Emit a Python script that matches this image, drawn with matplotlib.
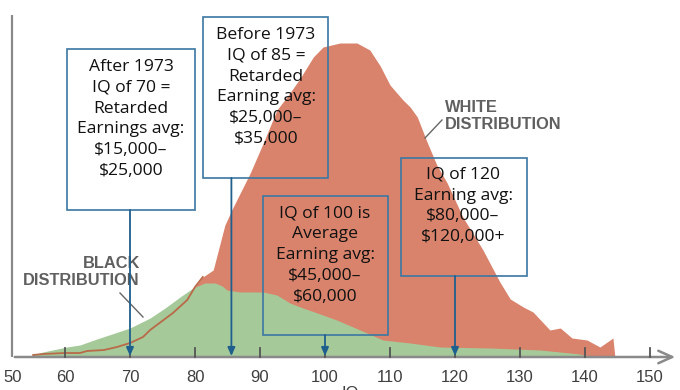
import matplotlib
matplotlib.use("Agg")
import matplotlib.pyplot as plt
from matplotlib.patches import Rectangle
import numpy as np

# ---- data ----
white_iq = [55.1, 56.6, 60.0, 62.3, 63.4, 66.0, 68.0, 70.0, 72.0, 73.1, 76.6, 78.8, 80.0, 81.2,
            82.8, 83.8, 84.6, 85.8, 88.5, 90.5, 92.6, 94.6, 96.2, 98.2, 99.7, 102.3, 104.9,
            106.9, 108.5, 110.0, 112.0, 113.1, 114.2, 115.7, 117.2, 118.8, 121.2, 124.3,
            126.9, 128.5, 130.5, 132.0, 134.6, 136.2, 138.0, 140.3, 142.3, 144.3, 144.6]
white_h = [2, 3, 4, 4, 6, 7, 10, 14, 20, 27, 44, 57, 70, 80,
           87, 112, 132, 149, 184, 214, 247, 264, 279, 300, 310, 314, 314,
           307, 291, 272, 257, 250, 240, 215, 192, 174, 140, 107,
           75, 58, 50, 45, 27, 29, 19, 17, 10, 19, 0]

black_iq = [54.6, 56.6, 60.3, 62.3, 64.9, 67.7, 70.0, 73.1, 75.4, 77.7, 79.7, 81.5, 83.1, 84.2,
            84.9, 86.9, 88.5, 90.5, 92.6, 94.6, 96.6, 98.8, 101.8, 105.4, 108.9, 113.1,
            117.7, 125.4, 133.1, 139.2, 140.8]
black_h = [1, 5, 10, 12, 18, 24, 29, 39, 49, 60, 69, 74, 74, 71,
           67, 65, 65, 65, 62, 54, 49, 44, 37, 27, 17, 14,
           10, 9, 7, 3, 0]

tick_values = [50, 60, 70, 80, 90, 100, 110, 120, 130, 140, 150]
tick_labels = [str(v) for v in tick_values]

box_texts = [
    "After 1973\nIQ of 70 =\nRetarded\nEarnings avg:\n$15,000\u2013\n$25,000",
    "Before 1973\nIQ of 85 =\nRetarded\nEarning avg:\n$25,000\u2013\n$35,000",
    "IQ of 100 is\nAverage\nEarning avg:\n$45,000\u2013\n$60,000",
    "IQ of 120\nEarning avg:\n$80,000\u2013\n$120,000+",
]
arrow_iq = [70, 85.6, 100, 120]

# ---- layout helpers (pixel -> data) ----
PX_PER_IQ = 6.5
def dx(x):
    return 60 + (x - 65) / PX_PER_IQ
def dy(y):
    return 357 - y

fig = plt.figure(figsize=(6.8, 3.9), dpi=100)
ax = fig.add_axes([0, 0, 1, 1])
ax.set_xlim(dx(0), dx(680))
ax.set_ylim(dy(390), dy(0))
ax.axis('off')

red = '#d9836c'
green = '#a5c999'
ax.fill_between(white_iq, 0, white_h, color=red, lw=0, zorder=1)
ax.fill_between(black_iq, 0, black_h, color=green, lw=0, zorder=2)
n_line = sum(1 for v in white_iq if v <= 81.5)
ax.plot(white_iq[:n_line], white_h[:n_line], color='#b96a48', lw=1.3, zorder=3)

# axes lines
spine_x = dx(12)
ax.plot([spine_x, spine_x], [0, dy(15)], color='#8a8a8a', lw=1.6, zorder=4, solid_capstyle='butt')
ax.annotate('', xy=(dx(678), 0), xytext=(spine_x, 0),
            arrowprops=dict(arrowstyle='->,head_length=1.0,head_width=0.45', color='#8a8a8a', lw=1.8),
            zorder=4)
for v, lab in zip(tick_values, tick_labels):
    if v > 50:
        ax.plot([v, v], [0, 9], color='#555555', lw=1.3, zorder=4)
        ax.text(v, -21, lab, ha='center', va='center', fontsize=12,
                family='Liberation Sans', color='#3f3f3f')
    else:
        ax.text(dx(13), -21, lab, ha='center', va='center', fontsize=12,
                family='Liberation Sans', color='#3f3f3f')
ax.text(dx(350), -29, 'IQ', ha='center', va='top', fontsize=12,
        family='Liberation Sans', color='#3f3f3f')

# distribution labels
ax.text(dx(445), dy(116), 'WHITE\nDISTRIBUTION', ha='left', va='center', fontsize=11.8,
        family='Liberation Sans', fontweight='bold', color='#606060', linespacing=1.15, zorder=5)
ax.plot([dx(442), dx(425)], [dy(120), dy(138)], color='#666666', lw=1.0, zorder=5)
ax.text(dx(140), dy(272), 'BLACK\nDISTRIBUTION', ha='right', va='center', fontsize=11.8,
        family='Liberation Sans', fontweight='bold', color='#606060', linespacing=1.15, zorder=5)
ax.plot([dx(120), dx(143)], [dy(293), dy(317)], color='#666666', lw=1.0, zorder=5)

# boxes: (left, top, right, bottom) in pixels and text center
boxes = [(67, 49, 195, 210), (203, 17, 328, 178), (263, 196, 388, 335), (401, 158, 527, 276)]
text_centers = [(131, 119), (266, 87), (325, 255), (463, 206)]
edge = '#3b77a3'
for (l, t, r, b), (tx, ty), txt, aiq in zip(boxes, text_centers, box_texts, arrow_iq):
    ax.add_patch(Rectangle((dx(l), dy(b)), (r - l) / PX_PER_IQ, b - t, fill=False,
                           edgecolor=edge, lw=1.2, zorder=6))
    ax.text(dx(tx), dy(ty), txt, ha='center', va='center', fontsize=12.6,
            family='Open Sans', color='#111111', linespacing=1.4, zorder=7)
    ax.annotate('', xy=(aiq, 1), xytext=(aiq, dy(b)),
                arrowprops=dict(arrowstyle='-|>,head_length=0.5,head_width=0.22',
                                color='#1f5f8e', lw=1.3, shrinkA=0, shrinkB=0),
                zorder=6)

fig.savefig('out.png', dpi=100)
